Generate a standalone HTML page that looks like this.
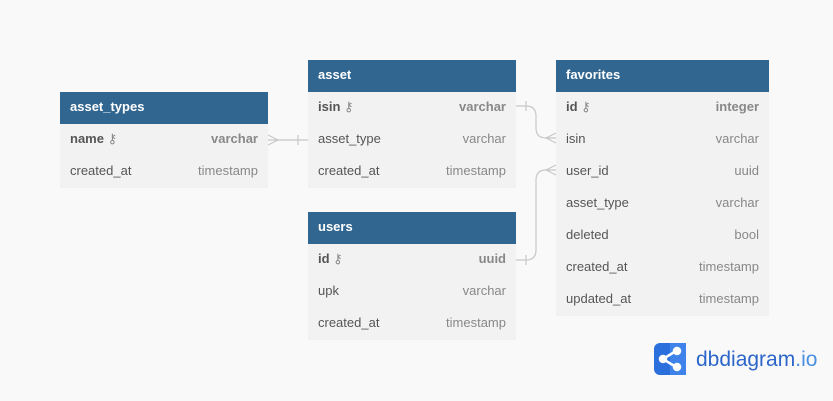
<!DOCTYPE html>
<html><head><meta charset="utf-8"><style>
body{margin:0;width:833px;height:401px;background:#f9f9fa;position:relative;overflow:hidden;font-family:"Liberation Sans",sans-serif}
.t{position:absolute;background:#f2f2f2}
.h{height:32px;background:#316690;color:#fff;font-weight:bold;font-size:13px;line-height:30px;padding-left:10px}
.r{height:32px;line-height:30px;font-size:13px;color:#555;padding:0 10px;display:flex;justify-content:space-between}
.r span:last-child{color:#888}
.b span{font-weight:bold}
.k{font-size:13px;color:#777;font-weight:normal!important}
</style></head><body>
<svg width="833" height="401" style="position:absolute;left:0;top:0">
<g stroke="#c8c8c8" fill="none" stroke-width="1.2">
<path d="M268 140 H308"/><path d="M298 135 V145"/><path d="M268 135 L278 140 L268 145"/>
<path d="M516 106 H526 Q536 106 536 116 V128 Q536 138 546 138 H556"/><path d="M526 101 V111"/><path d="M556 133 L546 138 L556 143"/>
<path d="M516 260 H526 Q536 260 536 250 V180 Q536 170 546 170 H556"/><path d="M526 255 V265"/><path d="M556 165 L546 170 L556 175"/>
</g>
<rect x="654" y="343" width="32" height="32" rx="6" fill="#2b6fdc"/>
<rect x="670" y="343" width="16" height="32" fill="#3f83ea"/>
<g stroke="#fff" stroke-width="2.5" fill="#fff"><line x1="663" y1="359" x2="676" y2="351"/><line x1="663" y1="359" x2="676" y2="367"/>
<circle cx="663" cy="359" r="3"/><circle cx="677" cy="351" r="3"/><circle cx="677" cy="367" r="3"/></g>
<text x="696" y="366" font-size="21" fill="#2c66c9" font-family="Liberation Sans,sans-serif">dbdiagram<tspan fill="#4a90e2">.io</tspan></text>
</svg>
<div class="t" style="left:60px;top:92px;width:208px">
<div class="h">asset_types</div>
<div class="r b"><span>name <span class="k">⚷</span></span><span>varchar</span></div>
<div class="r"><span>created_at</span><span>timestamp</span></div></div>
<div class="t" style="left:308px;top:60px;width:208px">
<div class="h">asset</div>
<div class="r b"><span>isin <span class="k">⚷</span></span><span>varchar</span></div>
<div class="r"><span>asset_type</span><span>varchar</span></div>
<div class="r"><span>created_at</span><span>timestamp</span></div></div>
<div class="t" style="left:308px;top:212px;width:208px">
<div class="h">users</div>
<div class="r b"><span>id <span class="k">⚷</span></span><span>uuid</span></div>
<div class="r"><span>upk</span><span>varchar</span></div>
<div class="r"><span>created_at</span><span>timestamp</span></div></div>
<div class="t" style="left:556px;top:60px;width:213px">
<div class="h">favorites</div>
<div class="r b"><span>id <span class="k">⚷</span></span><span>integer</span></div>
<div class="r"><span>isin</span><span>varchar</span></div>
<div class="r"><span>user_id</span><span>uuid</span></div>
<div class="r"><span>asset_type</span><span>varchar</span></div>
<div class="r"><span>deleted</span><span>bool</span></div>
<div class="r"><span>created_at</span><span>timestamp</span></div>
<div class="r"><span>updated_at</span><span>timestamp</span></div></div>
</body></html>
